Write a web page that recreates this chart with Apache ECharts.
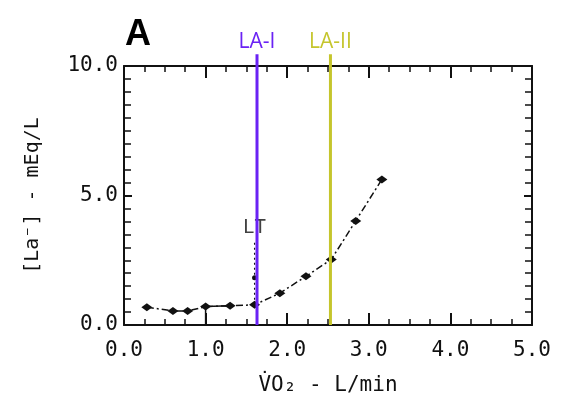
<!DOCTYPE html>
<html>
<head>
<meta charset="utf-8">
<script src="https://cdn.jsdelivr.net/npm/echarts@6/dist/echarts.min.js"></script>
<style>
  html, body { margin: 0; padding: 0; background: #fff; }
  #chart { width: 562px; height: 408px; }
</style>
</head>
<body>
<div id="chart"></div>
<script>
// Blood lactate vs oxygen uptake
const vo2 = [0.28, 0.60, 0.78, 1.00, 1.30, 1.60, 1.91, 2.23, 2.54, 2.84, 3.16];
const lactate = [0.69, 0.54, 0.54, 0.71, 0.74, 0.78, 1.23, 1.88, 2.53, 4.02, 5.62];

// Lactate threshold marker: point on the vertical at LT and its label
const ltX = 1.60;
const ltPointY = 1.82;
const ltLineTop = 3.2;
const ltLabelY = 3.75;

// Bracket drawn under the early baseline points
const bracketX = [1.00, 1.00, 1.30];
const bracketY = [0.0, 0.71, 0.74];

// Thresholds (vertical lines run from the x axis to just above the frame)
const thresholdNames = ['LA-I', 'LA-II'];
const thresholdX = [1.63, 2.53];
const thresholdColors = ['#6a22f4', '#c5c52c'];
const thresholdSpan = [0, 10.45];

const xTicks = [0, 5, 1];      // min, max, interval
const yTicks = [0, 10, 5];

const mono = 'DejaVu Sans Mono';
const ink = '#111';

const chart = echarts.init(document.getElementById('chart'), null, { renderer: 'canvas' });

const fmt = v => v.toFixed(1);

function frameX(position, withLabels) {
  return {
    type: 'value', min: xTicks[0], max: xTicks[1], interval: xTicks[2],
    position: position,
    axisLine: { onZero: false, lineStyle: { color: ink, width: 2 } },
    axisTick: { inside: true, length: 12, lineStyle: { color: ink, width: 2 } },
    minorTick: { show: true, splitNumber: 4, length: 6, lineStyle: { color: ink, width: 1.5 } },
    axisLabel: withLabels
      ? { formatter: fmt, margin: 15, fontFamily: mono, fontSize: 21, color: ink }
      : { show: false },
    splitLine: { show: false }
  };
}

function frameY(position, withLabels) {
  return {
    type: 'value', min: yTicks[0], max: yTicks[1], interval: yTicks[2],
    position: position,
    axisLine: { show: true, onZero: false, lineStyle: { color: ink, width: 2 } },
    axisTick: { inside: true, length: 8, lineStyle: { color: ink, width: 2 } },
    minorTick: { show: true, splitNumber: 10, length: 7, lineStyle: { color: ink, width: 1.5 } },
    axisLabel: withLabels
      ? { formatter: fmt, margin: 6, fontFamily: mono, fontSize: 21, color: ink }
      : { show: false },
    splitLine: { show: false }
  };
}

const xBottom = Object.assign(frameX('bottom', true), {
  name: 'V\u0307O\u2082 - L/min', nameLocation: 'middle', nameGap: 50,
  nameTextStyle: { fontFamily: mono, fontSize: 21, color: ink }
});
const yLeft = Object.assign(frameY('left', true), {
  name: '[La\u207B] - mEq/L', nameLocation: 'middle', nameGap: 81,
  nameTextStyle: { fontFamily: mono, fontSize: 20, color: ink }
});

const thresholdSeries = thresholdX.map((x, i) => ({
  name: thresholdNames[i],
  type: 'line',
  data: thresholdSpan.map(y => [x, y]),
  symbol: 'circle',
  symbolSize: 0,
  clip: false,
  lineStyle: { color: thresholdColors[i], width: 3 },
  itemStyle: { color: thresholdColors[i] },
  label: {
    show: true,
    position: 'top',
    distance: 2,
    formatter: p => (p.dataIndex === 1 ? thresholdNames[i] : ''),
    color: thresholdColors[i],
    fontFamily: 'Open Sans',
    fontSize: 21
  },
  z: 5
}));

const option = {
  animation: false,
  backgroundColor: '#fff',
  title: {
    text: 'A',
    left: 120,
    top: 12,
    textStyle: { fontFamily: 'Liberation Sans', fontWeight: 'bold', fontSize: 36, color: '#000' }
  },
  grid: { left: 124, right: 30, top: 66, bottom: 83 },
  xAxis: [xBottom, frameX('top', false)],
  yAxis: [yLeft, frameY('right', false)],
  series: [
    {
      name: 'bracket',
      type: 'line',
      data: bracketX.map((x, i) => [x, bracketY[i]]),
      symbol: 'none',
      lineStyle: { color: ink, width: 1.5 },
      z: 2
    },
    {
      name: 'LT',
      type: 'line',
      data: [[ltX, lactate[5]], [ltX, ltPointY], [ltX, ltLineTop]],
      symbol: (v, p) => (p.dataIndex === 1 ? 'circle' : 'none'),
      symbolSize: 5,
      itemStyle: { color: ink },
      lineStyle: { color: ink, width: 1.2, type: [2, 3] },
      z: 2
    },
    {
      name: 'LT label',
      type: 'scatter',
      data: [[ltX, ltLabelY]],
      symbolSize: 0,
      label: {
        show: true, formatter: 'LT', position: 'inside',
        fontFamily: mono, fontSize: 19, color: ink
      },
      z: 3
    },
    {
      name: 'lactate',
      type: 'line',
      data: vo2.map((x, i) => [x, lactate[i]]),
      symbol: 'diamond',
      symbolSize: [11, 8],
      itemStyle: { color: ink },
      lineStyle: { color: ink, width: 1.5, type: [7, 3, 2, 3] },
      z: 4
    }
  ].concat(thresholdSeries)
};

chart.setOption(option);
</script>
</body>
</html>
